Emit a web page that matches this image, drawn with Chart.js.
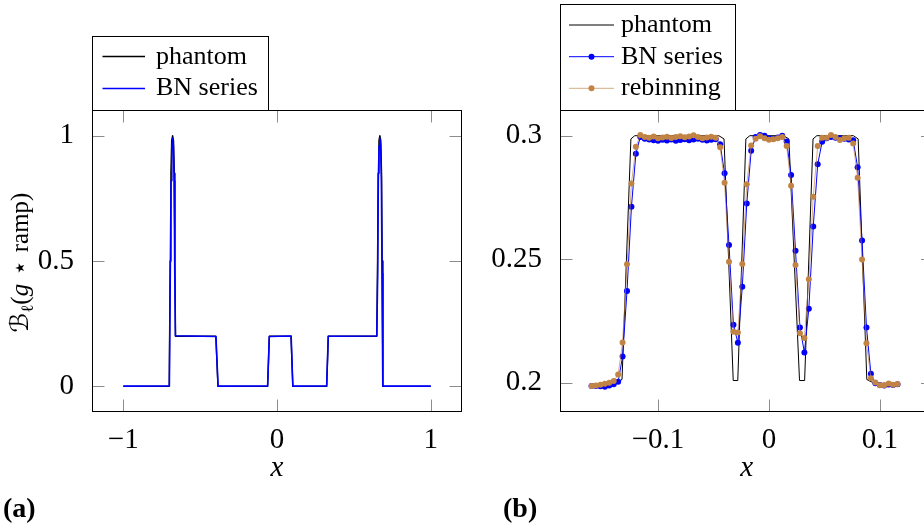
<!DOCTYPE html>
<html><head><meta charset="utf-8">
<script src="https://cdn.jsdelivr.net/npm/chart.js@4.4.0/dist/chart.umd.min.js"></script>
<style>
html,body{margin:0;padding:0;overflow:hidden;background:#fff;width:924px;height:529px;position:relative;}
canvas{position:absolute;top:0;width:470px;height:529px;}
#ca{left:0;} #cb{left:470px;}
</style></head><body>
<canvas id="ca" width="470" height="529"></canvas>
<canvas id="cb" width="470" height="529"></canvas>
<script>
// ---------- Panel (a) data ----------
const xPhantomA = [-1.000, -0.701, -0.695, -0.690, -0.685, -0.679, -0.673, -0.668, -0.664, -0.660, -0.398, -0.384, -0.061, -0.050, 0.091, 0.103, 0.323, 0.334, 0.649, 0.654, 0.658, 0.663, 0.669, 0.675, 0.680, 0.684, 0.689, 1.000];
const yPhantomA = [0, 0, 0.50, 0.85, 0.98, 1.00, 0.98, 0.85, 0.50, 0.20, 0.20, 0, 0, 0.20, 0.20, 0, 0, 0.20, 0.20, 0.50, 0.85, 0.98, 1.00, 0.98, 0.85, 0.50, 0, 0];
const xBNA = [-1.000, -0.700, -0.694, -0.689, -0.684, -0.679, -0.674, -0.669, -0.665, -0.661, -0.397, -0.383, -0.061, -0.050, 0.092, 0.103, 0.323, 0.333, 0.649, 0.655, 0.659, 0.664, 0.669, 0.674, 0.679, 0.683, 0.688, 1.000];
const yBNA = [0.001, 0.002, 0.45, 0.82, 0.96, 0.99, 0.96, 0.82, 0.45, 0.202, 0.199, 0.001, 0.002, 0.199, 0.201, 0.001, 0.002, 0.200, 0.201, 0.45, 0.82, 0.96, 0.99, 0.96, 0.82, 0.45, 0.001, 0.001];
const xTicksA = [-1, 0, 1];
const xTickLabelsA = ['\u22121', '0', '1'];
const yTicksA = [0, 0.5, 1];
const yTickLabelsA = ['0', '0.5', '1'];
const seriesNamesA = ['phantom', 'BN series'];
const yTitleA = ['\u212C', '\u2113', '(', 'g', ' \u22C6 ', 'ramp)'];
const panelLabelA = '(a)';

// ---------- Panel (b) data ----------
const xPhantomB = [-0.162, -0.141, -0.1325, -0.1245, -0.1210, -0.0452, -0.0405, -0.0322, -0.0281, -0.0208, -0.0172, 0.0130, 0.0180, 0.0276, 0.0322, 0.0398, 0.0432, 0.0762, 0.0805, 0.0883, 0.0970, 0.118];
const yPhantomB = [0.1985, 0.1992, 0.2012, 0.2987, 0.3000, 0.3000, 0.2987, 0.2008, 0.2008, 0.2987, 0.3000, 0.3000, 0.2987, 0.2008, 0.2008, 0.2987, 0.3000, 0.3000, 0.2987, 0.2012, 0.1992, 0.1985];
const xSamplesB = [-0.160, -0.156, -0.152, -0.148, -0.144, -0.140, -0.136, -0.132, -0.128, -0.124, -0.120, -0.116, -0.112, -0.108, -0.104, -0.100, -0.096, -0.092, -0.088, -0.084, -0.080, -0.076, -0.072, -0.068, -0.064, -0.060, -0.056, -0.052, -0.048, -0.044, -0.040, -0.036, -0.032, -0.028, -0.024, -0.020, -0.016, -0.012, -0.008, -0.004, 0.000, 0.004, 0.008, 0.012, 0.016, 0.020, 0.024, 0.028, 0.032, 0.036, 0.040, 0.044, 0.048, 0.052, 0.056, 0.060, 0.064, 0.068, 0.072, 0.076, 0.080, 0.084, 0.088, 0.092, 0.096, 0.100, 0.104, 0.108, 0.112, 0.116];
const yBNB = [0.1986, 0.1986, 0.1985, 0.1983, 0.1988, 0.1993, 0.2003,
  0.2105, 0.2371, 0.2712, 0.2927,
  0.2995, 0.2988, 0.2985, 0.2982, 0.2980, 0.2984, 0.2981, 0.2985, 0.2980, 0.2983, 0.2986, 0.2982, 0.2985, 0.2988, 0.2984, 0.2981, 0.2984, 0.2986,
  0.2965, 0.2848, 0.2557, 0.2234, 0.2161, 0.2388, 0.2725, 0.2939,
  0.2995, 0.3003, 0.3000, 0.2990, 0.2988, 0.2993, 0.3000,
  0.2976, 0.2841, 0.2534, 0.2223, 0.2122, 0.2299, 0.2632, 0.2884, 0.2975,
  0.2990, 0.2995, 0.2992, 0.2990, 0.2988, 0.2985,
  0.2982, 0.2872, 0.2575, 0.2223, 0.2035,
  0.1997, 0.1990, 0.1988, 0.1992, 0.1990, 0.1993];
const yRebinB = [0.1986, 0.1988, 0.1991, 0.1995, 0.1999, 0.2006, 0.2032,
  0.2162, 0.2479, 0.2806, 0.2955,
  0.3003, 0.2995, 0.2992, 0.2997, 0.2990, 0.2993, 0.2996, 0.2991, 0.2995, 0.2998, 0.2994, 0.2997, 0.3002, 0.2995, 0.2990, 0.2993, 0.2996, 0.2992,
  0.2953, 0.2809, 0.2489, 0.2206, 0.2203, 0.2480, 0.2803, 0.2960,
  0.2988, 0.2998, 0.2990, 0.2984, 0.2986, 0.2990, 0.2995,
  0.2958, 0.2797, 0.2476, 0.2200, 0.2180, 0.2418, 0.2753, 0.2958, 0.2992,
  0.2992, 0.3003, 0.2995, 0.2983, 0.2990, 0.2992,
  0.2968, 0.2830, 0.2498, 0.2159, 0.2017,
  0.2000, 0.1989, 0.1989, 0.1996, 0.1991, 0.1994];
const xTicksB = [-0.1, 0, 0.1];
const xTickLabelsB = ['\u22120.1', '0', '0.1'];
const yTicksB = [0.2, 0.25, 0.3];
const yTickLabelsB = ['0.2', '0.25', '0.3'];
const seriesNamesB = ['phantom', 'BN series', 'rebinning'];
const panelLabelB = '(b)';

// ---------- helpers ----------
const SERIF = "'Liberation Serif', 'DejaVu Serif', serif";
Chart.defaults.font.family = SERIF;
Chart.defaults.color = '#000';
const pts = (xs, ys) => xs.map((x, i) => ({x: x, y: ys[i]}));
const fixedTicks = vals => (s => { s.ticks = vals.map(v => ({value: v})); });

const deco = {
  id: 'deco',
  beforeDatasetsDraw(chart) {
    const ctx = chart.ctx, a = chart.chartArea;
    ctx.save();
    ctx.strokeStyle = '#8c8c8c'; ctx.lineWidth = 1;
    const L = 12;
    const sx = chart.scales.x, sy = chart.scales.y;
    ctx.beginPath();
    sx.ticks.forEach(t => {
      const p = Math.round(sx.getPixelForValue(t.value)) + 0.5;
      ctx.moveTo(p, a.bottom); ctx.lineTo(p, a.bottom - L);
      ctx.moveTo(p, a.top); ctx.lineTo(p, a.top + L);
    });
    sy.ticks.forEach(t => {
      const p = Math.round(sy.getPixelForValue(t.value)) + 0.5;
      ctx.moveTo(a.left, p); ctx.lineTo(a.left + L, p);
      ctx.moveTo(a.right, p); ctx.lineTo(a.right - L, p);
    });
    ctx.stroke();
    ctx.restore();
  },
  afterDraw(chart) {
    const o = chart.options.plugins.deco, ctx = chart.ctx, a = chart.chartArea;
    ctx.save();
    ctx.strokeStyle = '#000'; ctx.lineWidth = 1;
    ctx.strokeRect(a.left, a.top, a.right - a.left, a.bottom - a.top);
    const lg = o.legend;
    ctx.fillStyle = '#fff';
    ctx.fillRect(lg.box[0], lg.box[1], lg.box[2] - lg.box[0], lg.box[3] - lg.box[1]);
    ctx.strokeStyle = '#000';
    ctx.strokeRect(lg.box[0], lg.box[1], lg.box[2] - lg.box[0], lg.box[3] - lg.box[1]);
    lg.rows.forEach(r => {
      const ds = chart.data.datasets[r.ds];
      ctx.strokeStyle = ds.borderColor; ctx.lineWidth = ds.legendLineWidth || ds.borderWidth;
      ctx.beginPath(); ctx.moveTo(lg.lineX[0], r.lineY); ctx.lineTo(lg.lineX[1], r.lineY); ctx.stroke();
      if (ds.pointRadius > 0) {
        ctx.fillStyle = ds.pointBackgroundColor;
        ctx.beginPath(); ctx.arc((lg.lineX[0] + lg.lineX[1]) / 2, r.lineY, ds.pointRadius, 0, Math.PI * 2); ctx.fill();
      }
      ctx.fillStyle = '#000'; ctx.font = lg.font; ctx.textAlign = 'left'; ctx.textBaseline = 'alphabetic';
      ctx.fillText(ds.label, lg.textX, r.baseY);
    });
    if (o.yTitle) {
      const yt = o.yTitle;
      ctx.translate(yt.x, yt.y); ctx.rotate(-Math.PI / 2);
      let w = 0;
      yt.parts.forEach(p => { ctx.font = p.font; p.w = ctx.measureText(p.t).width; w += p.w; });
      let x = -w / 2;
      ctx.fillStyle = '#000'; ctx.textAlign = 'left'; ctx.textBaseline = 'alphabetic';
      yt.parts.forEach(p => { ctx.font = p.font; ctx.fillText(p.t, x, p.dy); x += p.w; });
      ctx.setTransform(1, 0, 0, 1, 0, 0);
    }
    ctx.fillStyle = '#000'; ctx.font = "bold 28px " + SERIF; ctx.textAlign = 'left'; ctx.textBaseline = 'alphabetic';
    ctx.fillText(o.panel.text, o.panel.x, o.panel.y);
    ctx.restore();
  }
};

function axes(xmin, xmax, ymin, ymax, xt, xl, yt, yl, yw) {
  return {
    x: { type: 'linear', min: xmin, max: xmax, grid: {display: false}, border: {display: false},
      afterBuildTicks: fixedTicks(xt),
      ticks: { padding: 3.5, maxRotation: 0, autoSkip: false, font: {size: 29}, color: '#000', callback: (v, i) => xl[i] },
      title: { display: true, text: 'x', color: '#000', font: {size: 29, style: 'italic'}, padding: {top: 0, bottom: 43.5} },
      afterFit: s => { s.height = 117.5; } },
    y: { type: 'linear', min: ymin, max: ymax, grid: {display: false}, border: {display: false},
      afterBuildTicks: fixedTicks(yt),
      ticks: { padding: 10.5, font: {size: 29}, color: '#000', callback: (v, i) => yl[i] },
      afterFit: s => { s.width = yw; } }
  };
}

new Chart(document.getElementById('ca'), {
  type: 'scatter',
  data: { datasets: [
    { label: seriesNamesA[0], data: pts(xPhantomA, yPhantomA), showLine: true, borderColor: '#000', borderWidth: 1.4, borderJoinStyle: 'round', pointRadius: 0, order: 1 },
    { label: seriesNamesA[1], data: pts(xBNA, yBNA), showLine: true, borderColor: '#0000ff', borderWidth: 1.6, borderJoinStyle: 'round', pointRadius: 0, order: 0, legendLineWidth: 1.3 }
  ]},
  options: {
    responsive: false, animation: false, events: [],
    layout: { padding: {left: 0, right: 8.5, top: 110.5, bottom: 0}, autoPadding: false },
    scales: axes(-1.2, 1.2, -0.1, 1.1, xTicksA, xTickLabelsA, yTicksA, yTickLabelsA, 92.5),
    plugins: {
      legend: {display: false}, tooltip: {enabled: false},
      deco: {
        legend: { box: [92.5, 36.5, 268.5, 110.5], lineX: [102.5, 145], textX: 156, font: "26px " + SERIF,
          rows: [{ds: 0, lineY: 56.5, baseY: 63.5}, {ds: 1, lineY: 88.5, baseY: 95.3}] },
        yTitle: { x: 28, y: 262.5, parts: [
          {t: yTitleA[0], font: "25px 'DejaVu Serif', 'DejaVu Sans'", dy: 0},
          {t: yTitleA[1], font: "17px " + SERIF, dy: 5},
          {t: yTitleA[2], font: "25px " + SERIF, dy: 0},
          {t: yTitleA[3], font: "italic 25px " + SERIF, dy: 0},
          {t: yTitleA[4], font: "25px 'DejaVu Sans', " + SERIF, dy: 0},
          {t: yTitleA[5], font: "25px " + SERIF, dy: 0}
        ]},
        panel: { text: panelLabelA, x: 3, y: 517 }
      }
    }
  },
  plugins: [deco]
});

new Chart(document.getElementById('cb'), {
  type: 'scatter',
  data: { datasets: [
    { label: seriesNamesB[0], data: pts(xPhantomB, yPhantomB), showLine: true, borderColor: '#000', borderWidth: 1, pointRadius: 0, order: 2 },
    { label: seriesNamesB[1], data: pts(xSamplesB, yBNB), showLine: true, borderColor: '#0000ff', borderWidth: 1,
      pointRadius: 3, pointBackgroundColor: '#0000ff', pointBorderColor: '#0000ff', pointBorderWidth: 0, order: 1 },
    { label: seriesNamesB[2], data: pts(xSamplesB, yRebinB), showLine: true, borderColor: 'rgba(191,128,64,0.65)', borderWidth: 1,
      pointRadius: 3, pointBackgroundColor: '#c28444', pointBorderColor: '#c28444', pointBorderWidth: 0, order: 0 }
  ]},
  options: {
    responsive: false, animation: false, events: [],
    layout: { padding: {left: 0, right: 7, top: 110.5, bottom: 0}, autoPadding: false },
    scales: axes(-0.188, 0.148, 0.18825, 0.31021, xTicksB, xTickLabelsB, yTicksB, yTickLabelsB, 90.5),
    plugins: {
      legend: {display: false}, tooltip: {enabled: false},
      deco: {
        legend: { box: [90.5, 4.5, 265.5, 110.5], lineX: [99, 144], textX: 151, font: "26px " + SERIF,
          rows: [{ds: 0, lineY: 25, baseY: 32.3}, {ds: 1, lineY: 56.7, baseY: 63.5}, {ds: 2, lineY: 88.3, baseY: 95}] },
        panel: { text: panelLabelB, x: 33, y: 517 }
      }
    }
  },
  plugins: [deco]
});
</script></body></html>
